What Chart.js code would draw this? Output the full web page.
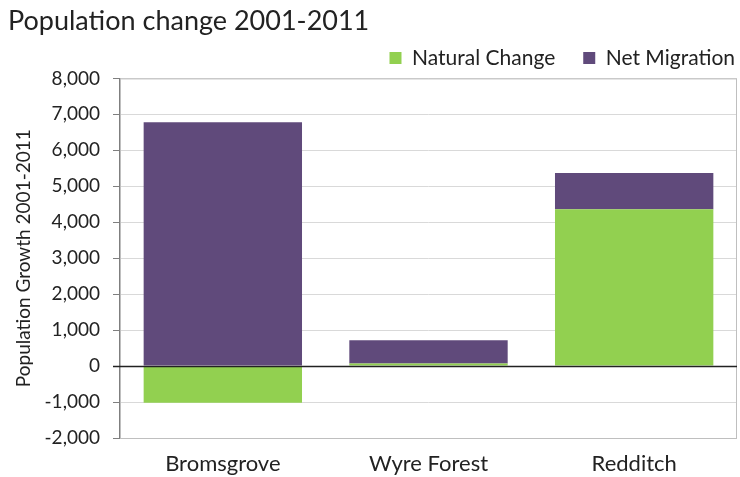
<!DOCTYPE html>
<html>
<head>
<meta charset="utf-8">
<script src="https://cdn.jsdelivr.net/npm/chart.js@4/dist/chart.umd.min.js"></script>
<style>
    html, body { margin: 0; padding: 0; background: #fff; }
    #wrap { width: 740px; height: 477px; }
</style>
</head>
<body>
<div id="wrap"><canvas id="popChart"></canvas></div>
<script>
// Chart data
const districts = ['Bromsgrove', 'Wyre Forest', 'Redditch'];
const naturalChange = [-1020, 70, 4360];
const netMigration = [6780, 650, 1010];
const yTicks = [-2000, -1000, 0, 1000, 2000, 3000, 4000, 5000, 6000, 7000, 8000];

const FONT = 'Lato, "Open Sans", "Liberation Sans", sans-serif';
const LEGEND_GAP = 28;

// Draws the light box around the plot area
const plotBorder = {
    id: 'plotBorder',
    beforeDatasetsDraw(chart) {
        const a = chart.chartArea;
        const c = chart.ctx;
        c.save();
        c.strokeStyle = '#bfbfbf';
        c.lineWidth = 1;
        c.strokeRect(a.left + 0.5, a.top + 0.5, a.right - a.left - 1, a.bottom - a.top);
        c.restore();
    }
};

// Zero line on top of the bars
const zeroLine = {
    id: 'zeroLine',
    afterDatasetsDraw(chart) {
        const a = chart.chartArea;
        const y = Math.round(chart.scales.y.getPixelForValue(0)) + 0.5;
        const c = chart.ctx;
        c.save();
        c.strokeStyle = '#222';
        c.lineWidth = 1.5;
        c.beginPath();
        c.moveTo(a.left - 7, y);
        c.lineTo(a.right, y);
        c.stroke();
        c.restore();
    }
};

// Wide item gap also adds trailing space; stretch the legend box so the row sits flush right
const legendFlush = {
    id: 'legendFlush',
    afterLayout(chart) {
        if (chart.legend) {
            chart.legend.right += LEGEND_GAP - 2;
        }
    }
};

new Chart(document.getElementById('popChart'), {
    type: 'bar',
    data: {
        labels: districts,
        datasets: [{
            label: 'Natural Change',
            data: naturalChange,
            backgroundColor: '#92d050',
            borderWidth: 0
        }, {
            label: 'Net Migration',
            data: netMigration,
            backgroundColor: '#604a7b',
            borderWidth: 0
        }]
    },
    options: {
        responsive: true,
        maintainAspectRatio: false,
        animation: false,
        layout: {
            padding: { top: 5, right: 3, left: 8, bottom: 0 }
        },
        datasets: {
            bar: {
                categoryPercentage: 1,
                barPercentage: 0.77
            }
        },
        plugins: {
            title: {
                display: true,
                text: 'Population change 2001-2011',
                align: 'start',
                color: '#222',
                font: { family: FONT, size: 27, weight: 'normal' },
                padding: { top: 0, bottom: -18 }
            },
            legend: {
                position: 'top',
                align: 'end',
                labels: {
                    color: '#222',
                    font: { family: FONT, size: 21 },
                    boxWidth: 12,
                    boxHeight: 12,
                    padding: LEGEND_GAP
                }
            },
            tooltip: { enabled: false }
        },
        scales: {
            x: {
                stacked: true,
                grid: { display: false },
                border: { display: false },
                ticks: {
                    color: '#222',
                    font: { family: FONT, size: 22 },
                    padding: 5
                },
                afterFit(scale) { scale.height = 39; }
            },
            y: {
                stacked: true,
                min: -2000,
                max: 8000,
                afterBuildTicks(scale) {
                    scale.ticks = yTicks.map(v => ({ value: v }));
                },
                grid: {
                    color: ctx => (ctx.tick && ctx.tick.value === -2000) ? '#7f7f7f' : '#d9d9d9',
                    tickColor: '#7f7f7f',
                    tickLength: 7,
                    drawTicks: true
                },
                border: { display: true, color: '#7f7f7f', width: 1.5 },
                ticks: {
                    color: '#222',
                    font: { family: FONT, size: 19 },
                    padding: 13,
                    callback: v => v.toLocaleString('en-US')
                },
                title: {
                    display: true,
                    text: 'Population Growth 2001-2011',
                    color: '#222',
                    font: { family: FONT, size: 19 },
                    padding: { top: 4, bottom: 0 }
                },
                afterFit(scale) { scale.width = 112; }
            }
        }
    },
    plugins: [plotBorder, zeroLine, legendFlush]
});
</script>
</body>
</html>
